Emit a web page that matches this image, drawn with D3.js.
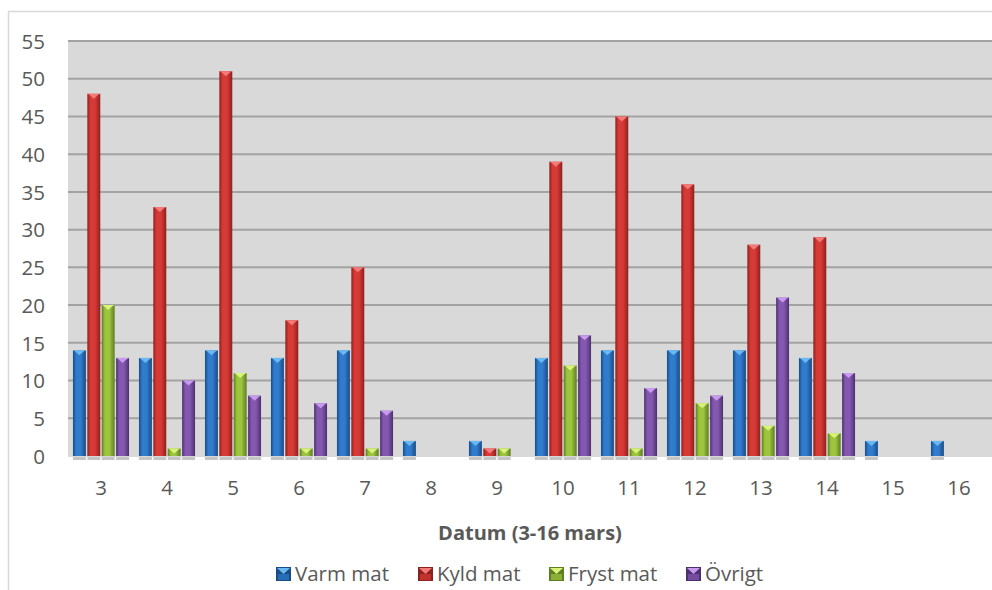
<!DOCTYPE html>
<html><head><meta charset="utf-8">
<script src="https://cdn.jsdelivr.net/npm/d3@7"></script>
<style>body{margin:0;background:#fff}svg{display:block}text{font-family:"Open Sans",sans-serif;fill:#595959}</style>
</head><body><svg id="c" width="992" height="590"></svg>
<script>
const categories = ["3","4","5","6","7","8","9","10","11","12","13","14","15","16"];
const seriesNames = ["Varm mat","Kyld mat","Fryst mat","Övrigt"];
const varmMat  = [14,13,14,13,14,2,2,13,14,14,14,13,2,2];
const kyldMat  = [48,33,51,18,25,0,1,39,45,36,28,29,0,0];
const frystMat = [20,1,11,1,1,0,1,12,1,7,4,3,0,0];
const ovrigt   = [13,10,8,7,6,0,0,16,9,8,21,11,0,0];
const yTicks = [0,5,10,15,20,25,30,35,40,45,50,55];
const xTitle = "Datum (3-16 mars)";

const seriesValues = [varmMat, kyldMat, frystMat, ovrigt];
const colors = [
  {mid:"#2f7bcc", dark:"#1a4c86", cap:"#6ab8f2"},
  {mid:"#d63a36", dark:"#8e201d", cap:"#f27a78"},
  {mid:"#9cc43e", dark:"#5f7e22", cap:"#d8f27a"},
  {mid:"#8458b0", dark:"#4e3070", cap:"#c89aee"}
];

const svg = d3.select("#c");
const L = 68, R = 992, T = 41, B = 456;
const y = d3.scaleLinear().domain([0,55]).range([B,T]);
const x0 = d3.scaleBand().domain(categories).range([L,R]).paddingInner(0.15).paddingOuter(0.075);
const x1 = d3.scaleBand().domain(seriesNames).range([0,x0.bandwidth()]).paddingInner(0.1);

const defs = svg.append("defs");
colors.forEach((c,i)=>{
  const g = defs.append("linearGradient").attr("id","g"+i).attr("x1","0").attr("x2","1").attr("y1","0").attr("y2","0");
  g.append("stop").attr("offset","0").attr("stop-color",c.dark);
  g.append("stop").attr("offset","0.25").attr("stop-color",c.mid);
  g.append("stop").attr("offset","0.6").attr("stop-color",c.mid);
  g.append("stop").attr("offset","1").attr("stop-color",c.dark);
});

svg.append("path").attr("d","M8.5,590 L8.5,11.5 L992,11.5").attr("fill","none").attr("stroke","#d9d9d9").attr("stroke-width",1.5);

svg.append("rect").attr("x",L).attr("y",T).attr("width",R-L).attr("height",B-T+1).attr("fill","#d9d9d9");

svg.append("g").selectAll("line").data(yTicks.filter(d=>d>0)).join("line")
  .attr("x1",L).attr("x2",R).attr("y1",d=>y(d)).attr("y2",d=>y(d))
  .attr("stroke","#a3a3a3").attr("stroke-width",2);

const yAxis = d3.axisLeft(y).tickValues(yTicks).tickSize(0).tickPadding(0);
const ya = svg.append("g").attr("transform",`translate(45,0)`).call(yAxis);
ya.select(".domain").remove();
ya.selectAll("text").style("font-size","20.5px").style("font-family","'Open Sans',sans-serif").attr("fill","#595959").attr("dy","0.35em");

const xAxis = d3.axisBottom(x0).tickSize(0).tickPadding(0);
const xa = svg.append("g").attr("transform",`translate(0,${B})`).call(xAxis);
xa.select(".domain").remove();
xa.selectAll("text").style("font-size","20.5px").style("font-family","'Open Sans',sans-serif").attr("fill","#595959").attr("dy","0").attr("y",39);

const groups = svg.append("g").selectAll("g").data(categories).join("g")
  .attr("transform",d=>`translate(${x0(d)},0)`);
groups.each(function(cat,ci){
  const g = d3.select(this);
  seriesNames.forEach((s,si)=>{
    const v = seriesValues[si][ci];
    if(v<=0) return;
    const bx = x1(s), bw = x1.bandwidth();
    g.append("rect").attr("x",bx).attr("y",B+1).attr("width",bw).attr("height",3).attr("fill","#c4c4c4");
    const top = y(v);
    g.append("rect").attr("x",bx).attr("y",top).attr("width",bw).attr("height",B-top).attr("fill","url(#g"+si+")");
    const ch = 4;
    g.append("path").attr("d",`M${bx},${top} L${bx+bw},${top} L${bx+bw-2},${top+1} L${bx+bw/2},${top+ch+1} L${bx+2},${top+1} Z`)
      .attr("fill",colors[si].cap);
  });
});

svg.append("text").attr("x",530).attr("y",540).attr("text-anchor","middle")
  .style("font-size","20px").style("font-weight","bold").attr("fill","#595959").text(xTitle);

const legX = [276,418,549,686];
const leg = svg.append("g").selectAll("g").data(seriesNames).join("g")
  .attr("transform",(d,i)=>`translate(${legX[i]},567)`);
leg.append("rect").attr("width",15).attr("height",14).attr("fill",(d,i)=>colors[i].dark);
leg.append("path").attr("d","M1,1 L14,1 L7.5,7 Z").attr("fill",(d,i)=>colors[i].cap);
leg.append("rect").attr("x",2).attr("y",7).attr("width",11).attr("height",6).attr("fill",(d,i)=>colors[i].mid).attr("opacity",0.7);
leg.append("text").attr("x",19).attr("y",7).attr("dy","0.35em").style("font-size","20.5px").attr("fill","#595959").text(d=>d);
</script></body></html>
